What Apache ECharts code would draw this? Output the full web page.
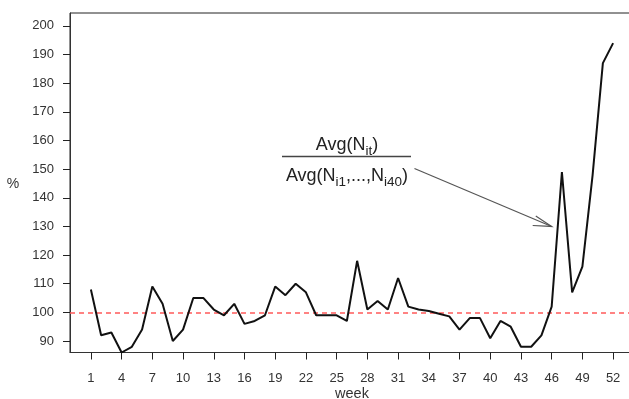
<!DOCTYPE html>
<html>
<head>
<meta charset="utf-8">
<script src="https://cdn.jsdelivr.net/npm/echarts@6/dist/echarts.min.js"></script>
<style>
html,body{margin:0;padding:0;background:#fff;}
#c{width:629px;height:399px;}
</style>
</head>
<body>
<div id="c"></div>
<script>
var weeks = [1,2,3,4,5,6,7,8,9,10,11,12,13,14,15,16,17,18,19,20,21,22,23,24,25,26,
             27,28,29,30,31,32,33,34,35,36,37,38,39,40,41,42,43,44,45,46,47,48,49,50,51,52];
var ratioPct = [108,92,93,86,88,94,109,103,90,94,105,105,101,99,103,96,97,99,109,106,110,107,99,99,99,97,
                118,101,104,101,112,102,101,100.5,99.5,98.6,94,98,98,91,97,95,88,88,92,102,149,107,116,148,187,194];
var xTickLabels = [1,4,7,10,13,16,19,22,25,28,31,34,37,40,43,46,49,52];
var yTickLabels = [90,100,110,120,130,140,150,160,170,180,190,200];
var referenceLevel = 100;

var FONT = 'Liberation Sans, Arial, Helvetica, sans-serif';
var chart = echarts.init(document.getElementById('c'), null, {renderer: 'canvas'});

var seriesData = weeks.map(function (w, i) { return [w, ratioPct[i]]; });

var option = {
  animation: false,
  backgroundColor: '#ffffff',
  textStyle: {fontFamily: FONT},
  grid: {
    left: 70, top: 13, width: 564, height: 339.5,
    outerBoundsMode: 'none', containLabel: false,
    show: true, borderColor: '#222', borderWidth: 1, backgroundColor: 'transparent'
  },
  xAxis: {
    type: 'value', min: -1.04, max: 54.04,
    name: 'week', nameLocation: 'middle', nameGap: 34, nameMoveOverlap: false,
    nameTextStyle: {fontFamily: FONT, fontSize: 14.5, color: '#333'},
    axisLine: {show: true, onZero: false, lineStyle: {color: '#333', width: 1}},
    axisTick: {show: true, inside: false, length: 7, customValues: xTickLabels, lineStyle: {color: '#222', width: 1}},
    axisLabel: {customValues: xTickLabels, fontFamily: FONT, fontSize: 13, color: '#333', margin: 19},
    splitLine: {show: false}
  },
  yAxis: {
    type: 'value', min: 86, max: 204.5,
    axisLine: {show: true, onZero: false, lineStyle: {color: '#333', width: 1}},
    axisTick: {show: true, inside: false, length: 7, customValues: yTickLabels, lineStyle: {color: '#222', width: 1}},
    axisLabel: {customValues: yTickLabels, fontFamily: FONT, fontSize: 13, color: '#333', margin: 16},
    splitLine: {show: false}
  },
  series: [{
    type: 'line',
    data: seriesData,
    showSymbol: false,
    symbol: 'none',
    lineStyle: {color: '#111', width: 2},
    z: 3,
    markLine: {
      silent: true,
      symbol: ['none', 'none'],
      label: {show: false},
      lineStyle: {color: '#ff5a5a', type: [5, 4], width: 1.5},
      data: [{yAxis: referenceLevel}],
      z: 2
    }
  }]
};
chart.setOption(option);

// annotation (arrow + fraction), anchored in data coordinates
var tip = chart.convertToPixel({gridIndex: 0}, [46.0, 130]);
var tail = chart.convertToPixel({gridIndex: 0}, [32.6, 150.2]);
var ang = Math.atan2(tail[1] - tip[1], tail[0] - tip[0]);
var hl = 19;
var h1 = [tip[0] + hl * Math.cos(ang - 0.35), tip[1] + hl * Math.sin(ang - 0.35)];
var h2 = [tip[0] + hl * Math.cos(ang + 0.18), tip[1] + hl * Math.sin(ang + 0.18)];
var cx = 347;
var richStyle = {
  a: {fontFamily: FONT, fontSize: 18, lineHeight: 26, fill: '#222', verticalAlign: 'middle'},
  s: {fontFamily: FONT, fontSize: 13.5, lineHeight: 13, fill: '#222', verticalAlign: 'bottom'}
};
chart.setOption({
  graphic: [
    {type: 'line', shape: {x1: tail[0], y1: tail[1], x2: tip[0], y2: tip[1]}, style: {stroke: '#555', lineWidth: 1.2}, z: 10},
    {type: 'polyline', shape: {points: [h1, tip, h2]}, style: {stroke: '#555', lineWidth: 1.2, fill: null}, z: 10},
    {type: 'line', shape: {x1: 282, y1: 156.5, x2: 411, y2: 156.5}, style: {stroke: '#444', lineWidth: 1.3}, z: 10},
    {type: 'text', x: cx, y: 145, z: 10,
     style: {text: '{a|Avg(N}{s|it}{a|)}', align: 'center', verticalAlign: 'middle', rich: richStyle}},
    {type: 'text', x: cx, y: 176, z: 10,
     style: {text: '{a|Avg(N}{s|i1}{a|,...,N}{s|i40}{a|)}', align: 'center', verticalAlign: 'middle', rich: richStyle}},
    {type: 'text', x: 13, y: 184, z: 10,
     style: {text: '%', align: 'center', verticalAlign: 'middle', fontFamily: FONT, fontSize: 14, fill: '#333'}}
  ]
});
</script>
</body>
</html>
